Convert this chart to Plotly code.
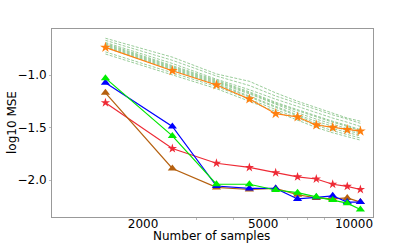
import plotly.graph_objects as go

samples = [1500, 2500, 3500, 4500, 5500, 6500, 7500, 8500, 9500, 10500]

# dashed ensemble (green)
ensemble = [
    [-0.65, -0.83, -0.99, -1.06, -1.17, -1.25, -1.31, -1.36, -1.41, -1.44],
    [-0.67, -0.86, -1.01, -1.10, -1.20, -1.27, -1.33, -1.38, -1.42, -1.46],
    [-0.69, -0.89, -1.04, -1.14, -1.23, -1.30, -1.36, -1.41, -1.45, -1.49],
    [-0.70, -0.91, -1.05, -1.16, -1.26, -1.33, -1.39, -1.44, -1.48, -1.52],
    [-0.71, -0.92, -1.06, -1.17, -1.27, -1.34, -1.40, -1.45, -1.49, -1.53],
    [-0.72, -0.93, -1.07, -1.18, -1.28, -1.36, -1.42, -1.47, -1.51, -1.55],
    [-0.73, -0.94, -1.08, -1.20, -1.30, -1.38, -1.44, -1.49, -1.53, -1.56],
    [-0.74, -0.95, -1.09, -1.21, -1.31, -1.39, -1.46, -1.51, -1.55, -1.58],
    [-0.78, -0.98, -1.11, -1.23, -1.33, -1.41, -1.48, -1.53, -1.57, -1.60],
    [-0.80, -1.00, -1.13, -1.25, -1.35, -1.43, -1.50, -1.55, -1.59, -1.62],
]

orange_stars = [-0.737, -0.959, -1.095, -1.229, -1.368, -1.40, -1.476, -1.50, -1.52, -1.535]
red_stars = [-1.264, -1.70, -1.84, -1.88, -1.93, -1.97, -1.99, -2.04, -2.06, -2.09]
blue_tri = [-1.073, -1.49, -2.057, -2.08, -2.08, -2.18, -2.165, -2.15, -2.21, -2.21]
brown_tri = [-1.17, -1.89, -2.07, -2.09, -2.08, -2.14, -2.17, -2.18, -2.17, -2.21]
lime_tri = [-1.03, -1.58, -2.04, -2.04, -2.095, -2.12, -2.16, -2.19, -2.22, -2.28]

x_ticks = [2000, 5000, 10000]
x_tick_labels = ["2000", "5000", "10000"]
x_minor = [3000, 4000, 6000, 7000, 8000, 9000]
y_ticks = [-1.0, -1.5, -2.0]
y_tick_labels = ["\u22121.0", "\u22121.5", "\u22122.0"]
x_title = "Number of samples"
y_title = "log10 MSE"

fig = go.Figure()

for ys in ensemble:
    fig.add_trace(go.Scatter(x=samples, y=ys, mode="lines",
                             line=dict(color="rgba(0,128,0,0.5)", width=0.8, dash="3px,1.5px"),
                             showlegend=False, hoverinfo="skip"))

fig.add_trace(go.Scatter(x=samples, y=orange_stars, mode="lines+markers",
                         line=dict(color="#ff7f0e", width=1.2),
                         marker=dict(symbol="star", size=8, color="#ff7f0e"),
                         showlegend=False))
fig.add_trace(go.Scatter(x=samples, y=red_stars, mode="lines+markers",
                         line=dict(color="#ee2a35", width=1.2),
                         marker=dict(symbol="star", size=7, color="#ee2a35"),
                         showlegend=False))
fig.add_trace(go.Scatter(x=samples, y=brown_tri, mode="lines+markers",
                         line=dict(color="#b5600f", width=1.2),
                         marker=dict(symbol="triangle-up", size=8, color="#b5600f"),
                         showlegend=False))
fig.add_trace(go.Scatter(x=samples, y=blue_tri, mode="lines+markers",
                         line=dict(color="#0000ff", width=1.2),
                         marker=dict(symbol="triangle-up", size=8, color="#0000ff"),
                         showlegend=False))
fig.add_trace(go.Scatter(x=samples, y=lime_tri, mode="lines+markers",
                         line=dict(color="#00e600", width=1.2),
                         marker=dict(symbol="triangle-up", size=8, color="#00ee00"),
                         showlegend=False))

axis_font = dict(family="DejaVu Sans", size=12, color="black")

fig.update_layout(
    width=415, height=244,
    margin=dict(l=52, r=42, t=29, b=27, autoexpand=False),
    paper_bgcolor="white", plot_bgcolor="white",
    font=axis_font,
    xaxis=dict(
        type="log", range=[2.999, 4.063], automargin=False,
        tickvals=x_ticks, ticktext=x_tick_labels,
        ticks="outside", ticklen=1, tickcolor="rgba(0,0,0,0)",
        ticklabelstandoff=-5,
        showgrid=False, zeroline=False,
        showline=True, linecolor="#999999", linewidth=1, mirror=True,
        minor=dict(tickvals=x_minor, ticks="outside", ticklen=2, tickcolor="#bbbbbb", showgrid=False),
        tickfont=axis_font,
    ),
    yaxis=dict(
        range=[-2.352, -0.562], automargin=False,
        tickvals=y_ticks, ticktext=y_tick_labels,
        ticks="outside", ticklen=2, tickcolor="#bbbbbb",
        showgrid=False, zeroline=False,
        showline=True, linecolor="#999999", linewidth=1, mirror=True,
        tickfont=axis_font,
    ),
    annotations=[
        dict(text=x_title, xref="paper", yref="paper", x=0.498, y=0,
             xanchor="center", yanchor="middle", yshift=-19, showarrow=False, font=axis_font),
        dict(text=y_title, xref="paper", yref="paper", x=0, y=0.50,
             xanchor="center", yanchor="middle", xshift=-40, textangle=-90,
             showarrow=False, font=axis_font),
    ],
)

fig.write_html("out.html", config={"displayModeBar": False},
               post_script="document.body.style.margin='0';")
